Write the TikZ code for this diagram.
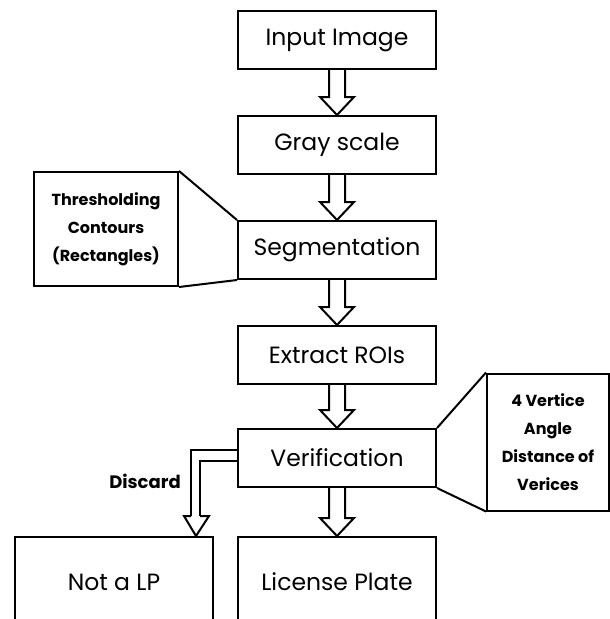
\documentclass[tikz,border=0pt]{standalone}
\usepackage{fontspec}
\setmainfont{Poppins}
\usetikzlibrary{calc}
\tikzstyle{box} = [rectangle, draw, line width=2pt, text centered, minimum height=58pt, minimum width=198pt, font=\fontsize{23.5}{28}\selectfont]
\tikzstyle{note} = [rectangle, draw, line width=2pt, align=center, font=\bfseries\fontsize{16}{28}\selectfont]
\tikzstyle{link} = [line width=2pt]
\tikzstyle{hollow} = [line width=2pt, fill=white, line join=miter]

% block arrow from the bottom of one box to the top of the next
\newcommand{\fatarrow}[2]{
  \draw [hollow] ($(#1.south)+(-8pt,0)$) -- ($(#2.north)+(-8pt,18pt)$) -- ($(#2.north)+(-17pt,18pt)$) -- (#2.north)
    -- ($(#2.north)+(17pt,18pt)$) -- ($(#2.north)+(8pt,18pt)$) -- ($(#1.south)+(8pt,0)$);
}

\begin{document}
\begin{tikzpicture}[node distance=105pt]
            \useasboundingbox (0,0) rectangle (610pt,-619pt);
            \clip (0,0) rectangle (610pt,-619pt);
            \node (input) [box] at (337pt,-40pt) {Input Image};
            \node (gray) [box, below of = input] {Gray scale};
            \node (seg) [box, below of = gray] {Segmentation};
            \node (roi) [box, below of = seg] {Extract ROIs};
            \node (ver) [box, below of = roi, yshift=2pt] {Verification};
            \node (lp) [box, below of = ver, yshift=-19pt, minimum height=90pt] {License Plate};
            \node (notlp) [box, left of = lp, xshift=-118pt, minimum height=90pt] {Not a LP};
            \node (thr) [note, left of = seg, xshift=-126pt, yshift=21pt, minimum width=144pt, minimum height=114pt] {
                Thresholding\\
                Contours\\
                (Rectangles)
            };
            \node (vert) [note, right of = ver, xshift=106pt, yshift=16pt, minimum width=122pt, minimum height=137pt] {
                4 Vertice\\
                Angle\\
                Distance of\\
                Verices
            };
            \coordinate (tip) at ($(notlp.north east)+(-18pt,0)$);
            \node (discard) [font=\bfseries\fontsize{18}{20}\selectfont] at ($(tip)+(-51pt,55pt)$) {Discard};
            \draw [link] (thr.north east) -- (seg.north west);
            \draw [link] (thr.south east) -- (seg.south west);
            \draw [link] (vert.north west) -- (ver.north east);
            \draw [link] (vert.south west) -- (ver.south east);
            \fatarrow{input}{gray}
            \fatarrow{gray}{seg}
            \fatarrow{seg}{roi}
            \fatarrow{roi}{ver}
            \fatarrow{ver}{lp}
            \draw [link] ($(ver.west)+(0,8pt)$) -| ($(tip)+(-5pt,20pt)$);
            \draw [link] ($(ver.west)+(0,-3pt)$) -| ($(tip)+(4pt,20pt)$);
            \draw [hollow] ($(tip)+(-5pt,20pt)$) -- ++(-7pt,0) -- (tip) -- ($(tip)+(13pt,20pt)$) -- ++(-9pt,0);
        \end{tikzpicture}
\end{document}
